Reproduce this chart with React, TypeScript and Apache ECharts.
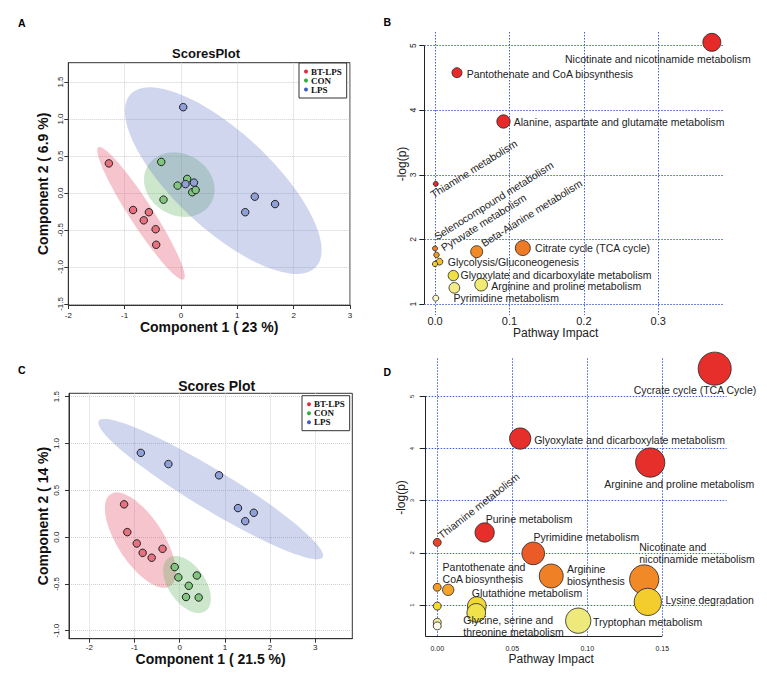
import { useEffect, useRef } from 'react';
import * as echarts from 'echarts';

const SANS = 'Liberation Sans, Arial, sans-serif';
const SERIF = 'Liberation Serif, Times New Roman, serif';

// ---------- Panel A : PLS-DA scores ----------
const groups = ['BT-LPS', 'CON', 'LPS'];
const scoresA_BTLPS = [[-1.28, 0.40], [-0.85, -0.23], [-0.57, -0.26], [-0.66, -0.37], [-0.45, -0.49], [-0.44, -0.70]];
const scoresA_CON = [[-0.35, 0.42], [0.11, 0.19], [-0.06, 0.10], [0.20, 0.01], [0.26, 0.04], [-0.31, -0.09]];
const scoresA_LPS = [[0.04, 1.16], [0.08, 0.12], [0.23, 0.14], [1.31, -0.05], [1.67, -0.15], [1.14, -0.26]];
// confidence ellipses: [cx, cy, semi-axis1 x, semi-axis1 y, semi-axis2 x, semi-axis2 y] (data units)
const ellipsesA = [
  [-0.71, -0.275, 0.757, -0.892, 0.174, 0.086],
  [-0.03, 0.113, 0.564, -0.248, -0.272, -0.359],
  [0.75, 0.167, 1.645, -1.167, -0.585, -0.477],
];
const xTicksA = [-2, -1, 0, 1, 2, 3];
const yTicksA = [-1.5, -1, -0.5, 0, 0.5, 1, 1.5];

// ---------- Panel C : PLS-DA scores ----------
const scoresC_BTLPS = [[-1.23, 0.35], [-1.16, 0.053], [-0.95, -0.068], [-0.82, -0.168], [-0.62, -0.22], [-0.38, -0.125]];
const scoresC_CON = [[-0.11, -0.32], [-0.03, -0.43], [0.38, -0.41], [0.20, -0.52], [0.14, -0.64], [0.42, -0.645]];
const scoresC_LPS = [[-0.86, 0.90], [-0.25, 0.78], [0.87, 0.66], [1.29, 0.31], [1.64, 0.26], [1.45, 0.17]];
const ellipsesC = [
  [-0.87, -0.032, 0.659, -0.491, -0.427, -0.134],
  [0.162, -0.506, 0.411, -0.283, -0.332, -0.113],
  [0.686, 0.513, 2.478, -0.728, -0.226, -0.180],
];
const xTicksC = [-2, -1, 0, 1, 2, 3];
const yTicksC = [-1, -0.5, 0, 0.5, 1, 1.5];

// ---------- Panel B : pathway analysis ----------
const pathwaysB = [
  'Nicotinate and nicotinamide metabolism',
  'Pantothenate and CoA biosynthesis',
  'Alanine, aspartate and glutamate metabolism',
  'Thiamine metabolism',
  'Selenocompound metabolism',
  'Pyruvate metabolism',
  'Glycolysis/Gluconeogenesis',
  '',
  'Beta-Alanine metabolism',
  'Citrate cycle (TCA cycle)',
  'Glyoxylate and dicarboxylate metabolism',
  '',
  'Arginine and proline metabolism',
  'Pyrimidine metabolism',
];
const impactB = [0.372, 0.0295, 0.092, 0.001, 0.0, 0.002, 0.006, 0.0, 0.056, 0.118, 0.0246, 0.026, 0.062, 0.001];
const logpB = [5.05, 4.58, 3.825, 2.86, 1.86, 1.76, 1.655, 1.62, 1.81, 1.866, 1.44, 1.25, 1.30, 1.09];
const bubbleB = [18, 10, 13.3, 5, 5, 5.5, 6.7, 5.3, 12, 15, 10.3, 10.7, 12.7, 6];
const xTicksB = [0, 0.1, 0.2, 0.3];
const yTicksB = [1, 2, 3, 4, 5];

// ---------- Panel D : pathway analysis ----------
const pathwaysD = [
  'Cycrate cycle (TCA Cycle)',
  'Glyoxylate and dicarboxylate metabolism',
  'Arginine and proline metabolism',
  'Thiamine metabolism',
  'Purine metabolism',
  'Pyrimidine metabolism',
  'Arginine\nbiosynthesis',
  'Nicotinate and\nnicotinamide metabolism',
  'Lysine degradation',
  'Pantothenate and\nCoA biosynthesis',
  '',
  'Glutathione metabolism',
  'Glycine, serine and\nthreonine metabolism',
  '',
  '',
  '',
  'Tryptophan metabolism',
];
const impactD = [0.185, 0.0553, 0.142, 0.0, 0.0316, 0.064, 0.076, 0.138, 0.1404, 0.0, 0.0073, 0.0264, 0.026, 0.0, 0.0, 0.0, 0.094];
const logpD = [5.53, 4.19, 3.73, 2.20, 2.39, 1.99, 1.556, 1.49, 1.06, 1.34, 1.29, 0.98, 0.85, 0.98, 0.67, 0.60, 0.70];
const bubbleD = [33, 21.3, 29.3, 8, 19.3, 22.7, 24, 29.3, 27.3, 8, 11.3, 18.7, 18.7, 8, 8, 8, 25.3];
const xTicksD = [0, 0.05, 0.1, 0.15];
const yTicksD = [1, 2, 3, 4, 5];

// ---------- label placement (style) ----------
type LC = { dx: number; dy: number; align?: string; rot?: number } | null;
const labelStyleB: LC[] = [
  { dx: -54, dy: 16.3, align: 'center' },
  { dx: 9.7, dy: 1.3 },
  { dx: 10.3, dy: 0.7 },
  { dx: -4.3, dy: 11.2, rot: 32 },
  { dx: 0, dy: -11.3, rot: 32 },
  { dx: 5.5, dy: -6.7, rot: 32 },
  { dx: 8.3, dy: 0.3 },
  null,
  { dx: 5.4, dy: -7.9, rot: 32 },
  { dx: 12.3, dy: 0.3 },
  { dx: 7.3, dy: -0.9 },
  null,
  { dx: 10, dy: 0.9 },
  { dx: 17.7, dy: 0 },
];
const labelStyleD: LC[] = [
  { dx: -19.7, dy: 21.7, align: 'center' },
  { dx: 14, dy: 1 },
  { dx: 29, dy: 21, align: 'center' },
  { dx: 2, dy: -6, rot: 38 },
  { dx: 1, dy: -13.7 },
  { dx: 0.3, dy: -16.7 },
  { dx: 15.7, dy: -1.3 },
  { dx: -5, dy: -26 },
  { dx: 17.7, dy: -2.3 },
  { dx: 5.3, dy: -14.7 },
  null,
  { dx: -5, dy: -12.7 },
  { dx: -13, dy: 13.3 },
  null,
  null,
  null,
  { dx: 14.7, dy: 1.8 },
];

const pointColors = ['#e8717f', '#80c67f', '#8f9fd8'];
const legendColors = ['#e8284a', '#2fae3c', '#3f5fc0'];
const ellipseColors = ['rgba(228,70,100,0.32)', 'rgba(90,175,85,0.30)', 'rgba(100,120,200,0.30)'];

function labelFor(cfg: LC, name: string) {
  if (!cfg) return { show: false };
  let off = [cfg.dx, cfg.dy];
  const rot = cfg.rot || 0;
  if (rot) {
    const t = (rot * Math.PI) / 180;
    const c = Math.cos(t), s = Math.sin(t);
    off = [cfg.dx * c - cfg.dy * s, cfg.dx * s + cfg.dy * c];
  }
  return {
    show: true,
    position: 'inside',
    offset: off,
    align: cfg.align || 'left',
    verticalAlign: 'middle',
    rotate: rot,
    formatter: '{b}',
    color: '#222',
    fontSize: 10.5,
    lineHeight: name.indexOf('\n') >= 0 ? 12 : 10.5,
    fontFamily: SANS,
  };
}

function ellipseSeries(idx: number, data: number[][]) {
  return {
    type: 'custom',
    name: 'ellipse' + idx,
    xAxisIndex: idx,
    yAxisIndex: idx,
    clip: true,
    silent: true,
    data,
    renderItem: (params: any, api: any) => {
      const cx = api.value(0), cy = api.value(1);
      const ax = api.value(2), ay = api.value(3), bx = api.value(4), by = api.value(5);
      const pts: number[][] = [];
      for (let i = 0; i < 96; i++) {
        const t = (i / 96) * Math.PI * 2;
        pts.push(api.coord([cx + Math.cos(t) * ax + Math.sin(t) * bx, cy + Math.cos(t) * ay + Math.sin(t) * by]));
      }
      return { type: 'polygon', shape: { points: pts }, style: { fill: ellipseColors[params.dataIndex] } };
    },
  };
}

function scoreSeries(idx: number, sets: number[][][]) {
  return sets.map((d, g) => ({
    type: 'scatter',
    name: groups[g],
    xAxisIndex: idx,
    yAxisIndex: idx,
    data: d,
    symbolSize: 7.5,
    itemStyle: { color: pointColors[g], borderColor: '#222', borderWidth: 1, opacity: 1 },
  }));
}

function scoreAxes(idx: number, xr: number[], yr: number[], xt: number[], yt: number[], xName: string, yName: string, yLabMargin: number, xLabMargin: number, yNameGap: number) {
  const x = {
    type: 'value', gridIndex: idx, min: xr[0], max: xr[1],
    axisLine: { show: true, onZero: false, lineStyle: { color: '#333', width: 1 } },
    axisTick: { show: true, length: 4, lineStyle: { color: '#333' }, customValues: xt },
    axisLabel: { customValues: xt, fontSize: 8, color: '#222', margin: xLabMargin, fontFamily: SANS, formatter: (v: number) => String(v) },
    splitLine: { show: true, lineStyle: { color: '#cfcfcf', type: 'dotted', width: 1 } },
    name: xName, nameLocation: 'middle', nameGap: 12,
    nameTextStyle: { fontSize: 14, fontWeight: 'bold', color: '#111', fontFamily: SANS },
  };
  const y = {
    type: 'value', gridIndex: idx, min: yr[0], max: yr[1],
    axisLine: { show: true, onZero: false, lineStyle: { color: '#333', width: 1 } },
    axisTick: { show: true, length: 4, lineStyle: { color: '#333' }, customValues: yt },
    axisLabel: { customValues: yt, fontSize: 8, color: '#222', margin: yLabMargin, rotate: 90, fontFamily: SANS, formatter: (v: number) => v.toFixed(1) },
    splitLine: { show: true, lineStyle: { color: '#cfcfcf', type: 'dotted', width: 1 } },
    name: yName, nameLocation: 'middle', nameGap: yNameGap,
    nameTextStyle: { fontSize: 14, fontWeight: 'bold', color: '#111', fontFamily: SANS },
  };
  return [x, y];
}

function pathAxes(idx: number, xr: number[], yr: number[], xt: number[], yt: number[], o: any) {
  const x = {
    type: 'value', gridIndex: idx, min: xr[0], max: xr[1],
    axisLine: { show: false, onZero: false },
    axisTick: { show: false, customValues: xt },
    axisLabel: { customValues: xt, fontSize: o.xFont, color: '#222', margin: o.xMargin, fontFamily: SANS, formatter: (v: number) => v.toFixed(o.xDec) },
    splitLine: { show: true, lineStyle: { color: '#3f63d6', type: [1.5, 1.5], width: 1 } },
    name: 'Pathway Impact', nameLocation: 'middle', nameGap: o.xNameGap,
    nameTextStyle: { fontSize: 12, color: '#222', fontFamily: SANS, padding: [0, o.xNamePadR, 0, 0] },
  };
  const y = {
    type: 'value', gridIndex: idx, min: yr[0], max: yr[1],
    axisLine: { show: false, onZero: false },
    axisTick: { show: true, length: o.tickLen, lineStyle: { color: '#222' }, customValues: yt },
    axisLabel: { customValues: yt, fontSize: o.yFont, color: '#222', margin: o.yMargin, rotate: 90, fontFamily: SANS, formatter: (v: number) => String(v) },
    splitLine: { show: true, lineStyle: { color: '#3f63d6', type: [1.5, 1.5], width: 1 } },
    name: '-log(p)', nameLocation: 'middle', nameGap: o.yNameGap,
    nameTextStyle: { fontSize: 12, color: '#222', fontFamily: SANS, padding: [0, 0, 0, o.yNamePadL] },
  };
  return [x, y];
}

const rangeAx = [-2, 3], rangeAy = [-1.514, 1.761];
const rangeCx = [-2.45, 3.82], rangeCy = [-1.085, 1.536];
const rangeBx = [-0.0144, 0.387], rangeBy = [0.83, 5.21];
const rangeDx = [-0.0077, 0.193], rangeDy = [0.393, 5.728];

function legendFor(left: number, top: number) {
  return {
    orient: 'vertical', left, top,
    padding: [4, 5, 4, 5], itemGap: 0, itemWidth: 4, itemHeight: 4, icon: 'circle',
    selectedMode: false,
    borderColor: '#333', borderWidth: 1, borderRadius: 0, backgroundColor: '#fff',
    textStyle: { fontFamily: SERIF, fontWeight: 'bold', fontSize: 9, color: '#111', padding: [0, 0, 0, -2] },
    data: groups.map((g, i) => ({ name: g, icon: 'circle', itemStyle: { color: legendColors[i], borderWidth: 0 } })),
  };
}

export default function App() {
  const ref = useRef<HTMLDivElement>(null);
  useEffect(() => {
    const chart = echarts.init(ref.current!, null, { renderer: 'svg' });
    const [ax, ay] = scoreAxes(0, rangeAx, rangeAy, xTicksA, yTicksA, 'Component 1 ( 23 %)', 'Component 2 ( 6.9 %)', 4.3, 6, 18);
    const [bx, by] = pathAxes(1, rangeBx, rangeBy, xTicksB, yTicksB, { xFont: 11, xMargin: 0.5, xDec: 1, xNameGap: 10.5, xNamePadR: 36, yFont: 8.5, yMargin: 6.5, tickLen: 5, yNameGap: 16.5, yNamePadL: 19 });
    const [cx, cy] = scoreAxes(2, rangeCx, rangeCy, xTicksC, yTicksC, 'Component 1 ( 21.5 %)', 'Component 2 ( 14 %)', 9, 4.6, 19);
    const [dx, dy] = pathAxes(3, rangeDx, rangeDy, xTicksD, yTicksD, { xFont: 7, xMargin: 8.3, xDec: 2, xNameGap: 16, xNamePadR: 50, yFont: 6, yMargin: 10.5, tickLen: 6, yNameGap: 19, yNamePadL: 0 });

    const markLineStyle = { silent: true, symbol: ['none', 'none'], label: { show: false }, lineStyle: { color: '#222', width: 1, type: 'solid' }, emphasis: { disabled: true } };

    const option: any = {
      animation: false,
      backgroundColor: '#fff',
      textStyle: { fontFamily: SANS },
      grid: [
        { left: 68.3, top: 62.7, width: 281.7, height: 242.3, show: true, borderColor: '#333', borderWidth: 1, backgroundColor: 'transparent' },
        { left: 424.3, top: 32, width: 298.7, height: 283, show: false },
        { left: 69, top: 393.3, width: 283.3, height: 245.4, show: true, borderColor: '#333', borderWidth: 1, backgroundColor: 'transparent' },
        { left: 425.7, top: 358.3, width: 301, height: 278.4, show: false },
      ],
      xAxis: [ax, bx, cx, dx],
      yAxis: [ay, by, cy, dy],
      legend: [legendFor(299, 63), legendFor(302, 395.7)],
      visualMap: [
        { type: 'continuous', show: false, seriesIndex: 8, dimension: 1, min: 1.0, max: 2.2,
          inRange: { color: ['#fffdf0', '#f5efa0', '#ede545', '#f5d233', '#f18c24', '#ec5626', '#e62a2a'] } },
        { type: 'continuous', show: false, seriesIndex: 9, dimension: 1, min: 0.6, max: 2.4,
          inRange: { color: [
            '#fdf8e8', '#ede97a', '#eee45a', '#f0df3a', '#f2d830', '#f4c62c', '#f4b22a', '#f4a22a', '#f39428',
            '#f18826', '#ef7a24', '#ee7024', '#ec6826', '#eb6028', '#ea5a28', '#e95029', '#e8462a', '#e73a2a', '#e62e2a'] } },
      ],
      graphic: [
        { type: 'text', x: 21.7, y: 23.3, style: { text: 'A', font: `bold 10.5px ${SANS}`, fill: '#000', textAlign: 'center', textVerticalAlign: 'middle' } },
        { type: 'text', x: 387.3, y: 21.7, style: { text: 'B', font: `bold 10.5px ${SANS}`, fill: '#000', textAlign: 'center', textVerticalAlign: 'middle' } },
        { type: 'text', x: 21.7, y: 370, style: { text: 'C', font: `bold 10.5px ${SANS}`, fill: '#000', textAlign: 'center', textVerticalAlign: 'middle' } },
        { type: 'text', x: 387.3, y: 371.7, style: { text: 'D', font: `bold 10.5px ${SANS}`, fill: '#000', textAlign: 'center', textVerticalAlign: 'middle' } },
        { type: 'text', x: 206, y: 53.3, style: { text: 'ScoresPlot', font: `bold 13px ${SANS}`, fill: '#111', textAlign: 'center', textVerticalAlign: 'middle' } },
        { type: 'text', x: 216.7, y: 386, style: { text: 'Scores Plot', font: `bold 14px ${SANS}`, fill: '#111', textAlign: 'center', textVerticalAlign: 'middle' } },
      ],
      series: [
        ellipseSeries(0, ellipsesA),
        ...scoreSeries(0, [scoresA_BTLPS, scoresA_CON, scoresA_LPS]),
        ellipseSeries(2, ellipsesC),
        ...scoreSeries(2, [scoresC_BTLPS, scoresC_CON, scoresC_LPS]),
        {
          type: 'scatter', name: 'pathwayB', xAxisIndex: 1, yAxisIndex: 1,
          data: pathwaysB.map((name, i) => ({ name, value: [impactB[i], logpB[i]], symbolSize: bubbleB[i], label: labelFor(labelStyleB[i], name) })),
          itemStyle: { borderColor: '#222', borderWidth: 0.8, opacity: 1 },
          markLine: { ...markLineStyle, data: [[{ coord: [rangeBx[0], yTicksB[0]] }, { coord: [rangeBx[0], yTicksB[yTicksB.length - 1]] }]] },
        },
        {
          type: 'scatter', name: 'pathwayD', xAxisIndex: 3, yAxisIndex: 3,
          data: pathwaysD.map((name, i) => ({ name, value: [impactD[i], logpD[i]], symbolSize: bubbleD[i], label: labelFor(labelStyleD[i], name) })),
          itemStyle: { borderColor: '#222', borderWidth: 0.8, opacity: 1 },
          markLine: { ...markLineStyle, data: [
            [{ coord: [rangeDx[0], rangeDy[0]] }, { coord: [rangeDx[0], yTicksD[yTicksD.length - 1]] }],
            [{ coord: [rangeDx[0], rangeDy[0]] }, { coord: [xTicksD[xTicksD.length - 1], rangeDy[0]] }],
          ] },
        },
      ],
    };
    chart.setOption(option);
    return () => chart.dispose();
  }, []);
  return <div ref={ref} style={{ position: 'fixed', left: 0, top: 0, width: 767, height: 676, background: '#fff' }} />;
}
